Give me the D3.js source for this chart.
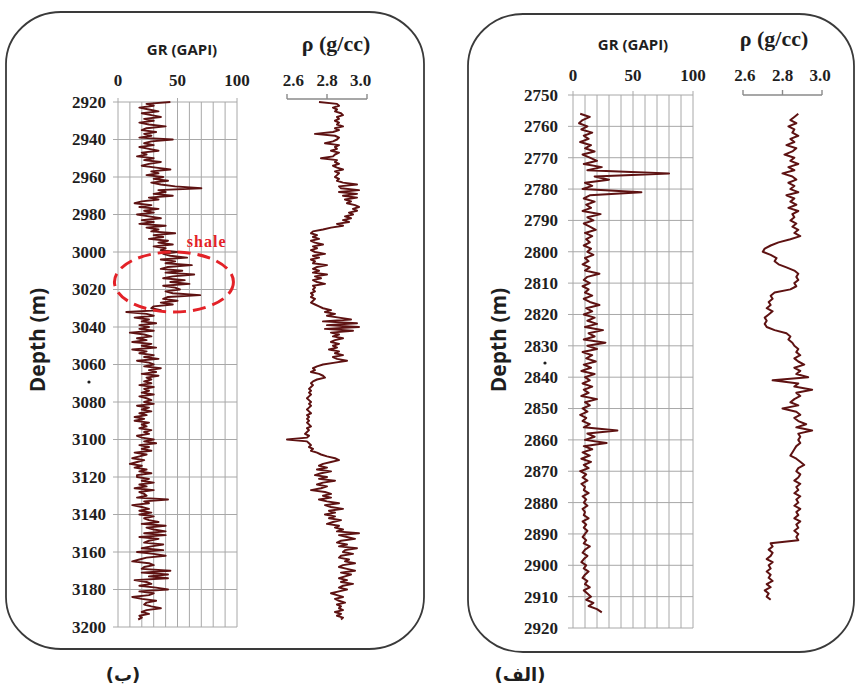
<!DOCTYPE html>
<html>
<head>
<meta charset="utf-8">
<script src="https://cdn.jsdelivr.net/npm/d3@7"></script>
<style>
  body { margin: 0; background: #fff; }
  svg { display: block; }
</style>
</head>
<body>
<svg id="chart" width="857" height="695"></svg>
<script>
// ---------- Well (ب): 2920–3196 m, one sample per metre ----------
const wellB_depthStart = 2920;
const wellB_depthStep = 1;
const wellB_gr = [
  44,24,30,18,26,34,20,28,36,22,
  30,18,26,40,24,20,32,22,28,18,
  46,28,22,30,18,26,34,20,24,16,
  30,22,36,26,20,32,44,28,34,24,
  38,30,42,28,36,48,70,34,40,30,
  46,26,34,20,14,28,18,34,22,30,
  16,26,36,20,30,18,40,24,34,28,
  48,30,38,26,42,34,46,30,40,36,
  50,38,44,58,36,48,40,62,42,36,
  54,40,64,46,38,56,44,60,38,48,
  52,40,46,69,42,38,50,36,46,30,
  28,36,7,24,30,14,26,20,32,18,
  26,18,30,10,22,28,16,24,12,28,
  20,32,12,24,18,30,22,34,16,26,
  30,22,36,26,32,20,34,24,28,22,
  28,18,30,22,26,20,30,18,24,28,
  22,30,16,26,20,28,18,24,14,22,
  14,26,20,24,18,28,22,26,16,20,
  30,22,32,18,26,20,28,14,24,18,
  12,22,16,10,20,14,24,18,28,16,
  16,26,20,30,18,24,14,30,18,22,
  24,16,42,22,26,12,20,26,18,28,
  18,30,22,26,34,20,40,24,30,40,
  22,40,18,34,26,22,38,28,20,38,
  16,30,40,24,18,12,26,30,22,20,
  44,20,42,26,42,14,24,28,18,32,
  42,18,30,26,12,20,32,24,22,28,
  36,24,20,26,18,20,17
];
const wellB_rho = [
  2.76,2.85,2.86,2.83,2.85,2.84,2.87,2.88,2.85,2.86,
  2.84,2.86,2.85,2.88,2.84,2.86,2.83,2.74,2.84,2.86,
  2.85,2.83,2.79,2.86,2.84,2.85,2.82,2.86,2.84,2.83,
  2.77,2.85,2.84,2.86,2.83,2.85,2.88,2.84,2.86,2.85,
  2.84,2.86,2.85,2.88,2.95,2.86,2.87,2.96,2.86,2.95,
  2.88,2.95,2.89,2.92,2.90,2.94,2.96,2.93,2.95,2.91,
  2.93,2.89,2.92,2.88,2.91,2.85,2.88,2.82,2.78,2.73,
  2.72,2.75,2.73,2.76,2.72,2.74,2.78,2.73,2.75,2.72,
  2.74,2.79,2.73,2.76,2.72,2.74,2.73,2.80,2.75,2.73,
  2.76,2.73,2.80,2.74,2.77,2.73,2.75,2.79,2.73,2.74,
  2.73,2.74,2.72,2.73,2.72,2.74,2.73,2.72,2.74,2.76,
  2.78,2.82,2.79,2.84,2.80,2.86,2.92,2.78,2.95,2.80,
  2.96,2.79,2.93,2.82,2.86,2.83,2.88,2.84,2.82,2.86,
  2.83,2.85,2.81,2.86,2.84,2.88,2.83,2.85,2.90,2.84,
  2.78,2.75,2.73,2.74,2.72,2.76,2.78,2.79,2.75,2.73,
  2.72,2.73,2.72,2.71,2.72,2.71,2.72,2.71,2.70,2.71,
  2.72,2.71,2.72,2.71,2.70,2.71,2.72,2.70,2.71,2.70,
  2.71,2.70,2.71,2.72,2.70,2.71,2.70,2.69,2.71,2.70,
  2.60,2.70,2.71,2.72,2.71,2.73,2.72,2.75,2.77,2.80,
  2.84,2.86,2.82,2.78,2.76,2.80,2.75,2.82,2.77,2.74,
  2.80,2.76,2.84,2.78,2.75,2.80,2.77,2.72,2.79,2.82,
  2.78,2.82,2.76,2.80,2.86,2.79,2.82,2.88,2.81,2.84,
  2.79,2.84,2.81,2.87,2.83,2.80,2.86,2.84,2.88,2.85,
  2.96,2.86,2.90,2.94,2.87,2.85,2.90,2.86,2.95,2.89,
  2.88,2.93,2.87,2.86,2.91,2.89,2.94,2.88,2.86,2.90,
  2.94,2.87,2.92,2.89,2.86,2.90,2.87,2.93,2.88,2.86,
  2.90,2.86,2.82,2.85,2.88,2.84,2.86,2.89,2.85,2.87,
  2.86,2.88,2.84,2.87,2.85,2.88,2.87
];
const wellB_depthTicks = [2920,2940,2960,2980,3000,3020,3040,3060,3080,3100,3120,3140,3160,3180,3200];

// Shale interval marked on well (ب): centre (GR, depth) and half-extents
const shaleZone = { gr: 47, depth: 3016, halfGr: 50, halfDepth: 16, label: "shale" };

// ---------- Well (الف): 2756–2915 m, one sample per metre ----------
const wellA_depthStart = 2756;
const wellA_depthStep = 1;
const wellA_gr = [
  6,14,8,5,12,7,16,9,13,6,
  15,10,18,8,14,20,9,24,12,80,
  18,30,10,16,8,57,14,9,18,11,
  15,8,23,12,17,9,14,19,10,16,
  11,14,9,15,12,17,10,13,8,14,
  10,22,12,9,14,8,13,10,16,9,
  14,22,11,16,9,18,12,20,10,25,
  13,18,9,27,12,20,8,16,11,19,
  9,15,7,18,10,14,8,16,9,13,
  7,20,10,14,8,12,6,11,8,14,
  9,37,12,18,10,28,9,16,8,14,
  7,15,9,13,6,11,8,12,7,10,
  9,13,8,11,9,12,8,10,9,13,
  8,11,9,12,10,8,11,9,14,10,
  8,12,9,7,11,9,13,10,8,12,
  10,14,9,12,15,11,17,13,20,24
];
const wellA_rho = [
  2.88,2.86,2.84,2.87,2.83,2.86,2.85,2.88,2.84,2.86,
  2.82,2.87,2.85,2.81,2.86,2.84,2.88,2.83,2.86,2.80,
  2.85,2.87,2.83,2.86,2.84,2.88,2.82,2.86,2.84,2.87,
  2.83,2.88,2.85,2.86,2.84,2.87,2.85,2.88,2.86,2.89,
  2.84,2.78,2.74,2.71,2.70,2.74,2.77,2.76,2.78,2.82,
  2.86,2.88,2.87,2.88,2.86,2.87,2.84,2.76,2.74,2.75,
  2.73,2.74,2.72,2.75,2.73,2.71,2.72,2.71,2.72,2.76,
  2.82,2.84,2.83,2.85,2.86,2.88,2.87,2.89,2.86,2.88,
  2.91,2.86,2.89,2.87,2.93,2.75,2.88,2.86,2.95,2.87,
  2.89,2.86,2.84,2.88,2.80,2.87,2.89,2.86,2.88,2.92,
  2.87,2.95,2.88,2.89,2.88,2.89,2.87,2.86,2.85,2.84,
  2.87,2.89,2.91,2.88,2.87,2.89,2.88,2.86,2.89,2.87,
  2.88,2.86,2.89,2.87,2.88,2.86,2.89,2.87,2.88,2.86,
  2.89,2.87,2.88,2.86,2.88,2.87,2.88,2.74,2.75,2.73,
  2.75,2.74,2.72,2.75,2.73,2.74,2.72,2.74,2.73,2.75,
  2.72,2.74,2.71,2.73,2.72,2.74
];
const wellA_depthTicks = [2750,2760,2770,2780,2790,2800,2810,2820,2830,2840,2850,2860,2870,2880,2890,2900,2910,2920];

// ---------- shared axis labels ----------
const grDomain = [0, 100];
const grTicks = [0, 50, 100];
const grGridStep = 10;
const rhoDomain = [2.6, 3.0];
const rhoTicks = [2.6, 2.8, 3.0];
const grTitle = "GR (GAPI)";
const rhoTitle = "ρ (g/cc)";
const depthTitle = "Depth (m)";

// ---------- layout of the two log panels ----------
const panels = [
  {
    gr: wellB_gr, rho: wellB_rho, start: wellB_depthStart, step: wellB_depthStep,
    depthDomain: [2920, 3200], depthTicks: wellB_depthTicks,
    frame: { x: 6, y: 12, w: 418, h: 637, rx: 55, ry: 52 },
    yRange: [102, 627], grRange: [118, 237], rhoRange: [287, 367], bracketY: 99,
    grHeader: [182, 55], rhoHeader: [336, 51], tickLabelY: 86, rhoSpread: 0.84,
    depthLabelX: 106, title: [38, 340], caption: [123, 681, "(ب)"], dot: [89, 382],
    shale: shaleZone
  },
  {
    gr: wellA_gr, rho: wellA_rho, start: wellA_depthStart, step: wellA_depthStep,
    depthDomain: [2750, 2920], depthTicks: wellA_depthTicks,
    frame: { x: 468, y: 14, w: 386, h: 638, rx: 55, ry: 52 },
    yRange: [95, 628], grRange: [573, 693], rhoRange: [743, 822], bracketY: 95,
    grHeader: [633, 50], rhoHeader: [774, 46], tickLabelY: 81, rhoSpread: 0.95,
    depthLabelX: 558, title: [499, 340], caption: [520, 681, "(الف)"], dot: [545, 363],
    shale: null
  }
];

const svg = d3.select("#chart");
svg.append("rect").attr("width", 857).attr("height", 695).attr("fill", "#fff");

const curveColor = "#5e1212";
const gridColor = "#a8a8a8";
const textColor = "#1e1e1e";
const serif = "'Liberation Serif', 'Times New Roman', serif";
const sans = "'Open Sans', 'Liberation Sans', sans-serif";

panels.forEach(p => {
  const g = svg.append("g");
  const y = d3.scaleLinear().domain(p.depthDomain).range(p.yRange);
  const xGr = d3.scaleLinear().domain(grDomain).range(p.grRange);
  const xRho = d3.scaleLinear().domain(rhoDomain).range(p.rhoRange);

  // rounded frame
  g.append("rect")
    .attr("x", p.frame.x).attr("y", p.frame.y)
    .attr("width", p.frame.w).attr("height", p.frame.h)
    .attr("rx", p.frame.rx).attr("ry", p.frame.ry)
    .attr("fill", "none").attr("stroke", "#3a3a3a").attr("stroke-width", 1.8);

  // GR track grid
  const grid = g.append("g").attr("stroke", gridColor).attr("stroke-width", 1);
  grid.selectAll("line.v")
    .data(d3.range(grDomain[0], grDomain[1] + 1, grGridStep))
    .join("line")
    .attr("x1", d => xGr(d)).attr("x2", d => xGr(d))
    .attr("y1", y(p.depthDomain[0])).attr("y2", y(p.depthDomain[1]));
  grid.selectAll("line.h")
    .data(p.depthTicks)
    .join("line")
    .attr("x1", xGr(grDomain[0]) - 5).attr("x2", xGr(grDomain[1]))
    .attr("y1", d => y(d)).attr("y2", d => y(d));
  grid.selectAll("line.t")
    .data(grTicks)
    .join("line")
    .attr("x1", d => xGr(d)).attr("x2", d => xGr(d))
    .attr("y1", y(p.depthDomain[0]) - 4).attr("y2", y(p.depthDomain[0]));

  // density scale bracket
  const br = g.append("g").attr("stroke", "#8a8a8a").attr("stroke-width", 1.4).attr("fill", "none");
  br.append("line")
    .attr("x1", xRho(rhoDomain[0])).attr("x2", xRho(rhoDomain[1]))
    .attr("y1", p.bracketY).attr("y2", p.bracketY);
  br.selectAll("line.tk")
    .data(rhoTicks)
    .join("line")
    .attr("x1", d => xRho(d)).attr("x2", d => xRho(d))
    .attr("y1", p.bracketY - 5).attr("y2", p.bracketY);

  // depth labels
  g.append("g").selectAll("text")
    .data(p.depthTicks)
    .join("text")
    .attr("x", p.depthLabelX).attr("y", d => y(d)).attr("dy", "0.35em")
    .attr("text-anchor", "end")
    .attr("font-family", serif).attr("font-weight", "bold").attr("font-size", 17)
    .attr("fill", textColor)
    .text(d => d);

  // GR tick labels
  g.append("g").selectAll("text")
    .data(grTicks)
    .join("text")
    .attr("x", d => xGr(d)).attr("y", p.tickLabelY)
    .attr("text-anchor", "middle")
    .attr("font-family", serif).attr("font-weight", "bold").attr("font-size", 17)
    .attr("fill", textColor)
    .text(d => d);

  // density tick labels
  const rhoMid = (p.rhoRange[0] + p.rhoRange[1]) / 2;
  g.append("g").selectAll("text")
    .data(rhoTicks)
    .join("text")
    .attr("x", d => rhoMid + (xRho(d) - rhoMid) * p.rhoSpread).attr("y", p.tickLabelY)
    .attr("text-anchor", "middle")
    .attr("font-family", serif).attr("font-weight", "bold").attr("font-size", 17)
    .attr("fill", textColor)
    .text(d => d.toFixed(1));

  // track headers
  g.append("text")
    .attr("x", p.grHeader[0]).attr("y", p.grHeader[1])
    .attr("text-anchor", "middle")
    .attr("font-family", sans).attr("font-weight", "bold").attr("font-size", 15)
    .attr("fill", textColor).text(grTitle);
  g.append("text")
    .attr("x", p.rhoHeader[0]).attr("y", p.rhoHeader[1])
    .attr("text-anchor", "middle")
    .attr("font-family", serif).attr("font-weight", "bold").attr("font-size", 22)
    .attr("fill", textColor).text(rhoTitle);

  // vertical depth title
  g.append("text")
    .attr("transform", `translate(${p.title[0]},${p.title[1]}) rotate(-90)`)
    .attr("text-anchor", "middle").attr("dy", "0.35em")
    .attr("font-family", sans).attr("font-weight", "bold").attr("font-size", 21)
    .attr("fill", textColor).text(depthTitle);

  g.append("circle").attr("cx", p.dot[0]).attr("cy", p.dot[1]).attr("r", 1.6).attr("fill", textColor);

  // panel caption (right-to-left text)
  svg.append("text")
    .attr("x", p.caption[0]).attr("y", p.caption[1])
    .attr("text-anchor", "middle")
    .attr("direction", "rtl").attr("unicode-bidi", "embed")
    .attr("font-family", "'DejaVu Sans', sans-serif").attr("font-weight", "bold").attr("font-size", 18)
    .attr("fill", textColor).text(p.caption[2]);

  // log curves
  const grData = p.gr.map((v, i) => ({ depth: p.start + i * p.step, v }));
  const rhoData = p.rho.map((v, i) => ({ depth: p.start + i * p.step, v }));
  const grLine = d3.line().x(d => xGr(d.v)).y(d => y(d.depth));
  const rhoLine = d3.line().x(d => xRho(d.v)).y(d => y(d.depth));
  g.append("path").datum(grData).attr("d", grLine)
    .attr("fill", "none").attr("stroke", curveColor).attr("stroke-width", 2)
    .attr("stroke-linejoin", "round");
  g.append("path").datum(rhoData).attr("d", rhoLine)
    .attr("fill", "none").attr("stroke", curveColor).attr("stroke-width", 2)
    .attr("stroke-linejoin", "round");

  // highlighted shale interval
  if (p.shale) {
    const s = p.shale;
    const cx = xGr(s.gr), cy = y(s.depth);
    const rx = xGr(s.gr + s.halfGr) - cx, ry = y(s.depth + s.halfDepth) - cy;
    g.append("ellipse")
      .attr("cx", cx).attr("cy", cy).attr("rx", rx).attr("ry", ry)
      .attr("fill", "none").attr("stroke", "#e32228").attr("stroke-width", 3)
      .attr("stroke-dasharray", "13,7");
    g.append("text")
      .attr("x", cx + rx * 0.55).attr("y", cy - ry - 5)
      .attr("text-anchor", "middle")
      .attr("font-family", serif).attr("font-weight", "bold").attr("font-size", 16)
      .attr("letter-spacing", 1)
      .attr("fill", "#e32228").text(s.label);
  }
});
</script>
</body>
</html>
